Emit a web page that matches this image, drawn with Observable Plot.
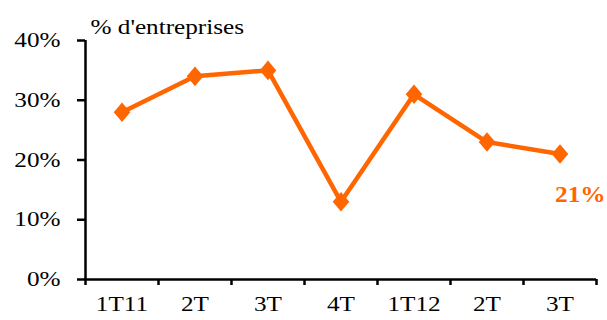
<!DOCTYPE html>
<html>
<head>
<meta charset="utf-8">
<script src="https://cdn.jsdelivr.net/npm/d3@7"></script>
<script src="https://cdn.jsdelivr.net/npm/@observablehq/plot@0.6"></script>
<style>
  html, body { margin: 0; padding: 0; background: #ffffff; }
  #chart { width: 607px; height: 320px; }
  #chart svg text { font-family: "Liberation Serif", "Times New Roman", serif !important; }
</style>
</head>
<body>
<div id="chart"></div>
<script>
const quarters = ["1T11", "2T", "3T", "4T", "1T12", "2T", "3T"];
const values = [28, 34, 35, 13, 31, 23, 21];
const yTicks = [0, 10, 20, 30, 40];
const title = "% d'entreprises";
const orange = "#FF6600";

const data = quarters.map((q, i) => ({i: i + 0.5, q, v: values[i]}));
const last = data[data.length - 1];

// Diamond marker slightly taller than wide
const diamond = {
  draw(ctx, size) {
    const w = Math.sqrt(size) * 0.55, h = w * 1.18;
    ctx.moveTo(0, -h); ctx.lineTo(w, 0); ctx.lineTo(0, h); ctx.lineTo(-w, 0); ctx.closePath();
  }
};

const chart = Plot.plot({
  width: 607,
  height: 320,
  marginLeft: 85,
  marginRight: 11,
  marginTop: 40,
  marginBottom: 41,
  x: {domain: [0, quarters.length], axis: null},
  y: {domain: [0, 40], axis: null},
  style: {fontSize: "21px", background: "#ffffff", color: "#000000"},
  marks: [
    Plot.axisY({ticks: yTicks, tickSize: 8, tickPadding: 17, tickFormat: d => d + "%", strokeWidth: 2.5, fontSize: 21, label: null}),
    Plot.axisX({ticks: d3.range(quarters.length + 1), tickSize: 6, tickFormat: () => "", strokeWidth: 2.5, label: null}),
    Plot.axisX({ticks: data.map(d => d.i), tickSize: 0, tickPadding: 17, tickFormat: t => quarters[Math.round(t - 0.5)], fontSize: 21, label: null}),
    Plot.ruleX([0], {y1: 0, y2: 40, strokeWidth: 2.5}),
    Plot.ruleY([0], {x1: 0, x2: quarters.length, strokeWidth: 2.5}),
    Plot.line(data, {x: "i", y: "v", stroke: orange, strokeWidth: 4.5}),
    Plot.dot(data, {x: "i", y: "v", symbol: diamond, r: 8.5, fill: orange, stroke: "none"}),
    Plot.text([last], {x: "i", y: "v", text: d => d.v + "%", fill: orange, fontWeight: "bold", fontSize: 23, textAnchor: "start", dx: -5, dy: 41, className: "val-label"}),
    Plot.text([title], {frameAnchor: "top-left", text: d => d, textAnchor: "start", lineAnchor: "bottom", dx: 5, dy: -7, fontSize: 21})
  ]
});

document.getElementById("chart").appendChild(chart);

// Wider letterforms to match the reference's stretched serif text
chart.querySelectorAll("text").forEach(t => {
  const bold = t.closest(".val-label") || t.closest("[font-weight=bold]");
  const s = bold ? 1.1 : 1.2;
  const xa = t.getAttribute("x");
  if (xa != null && !isNaN(+xa)) t.setAttribute("x", +xa / s);
  const tr = t.getAttribute("transform") || "";
  t.setAttribute("transform", `${tr} scale(${s},1)`);
});
</script>
</body>
</html>
